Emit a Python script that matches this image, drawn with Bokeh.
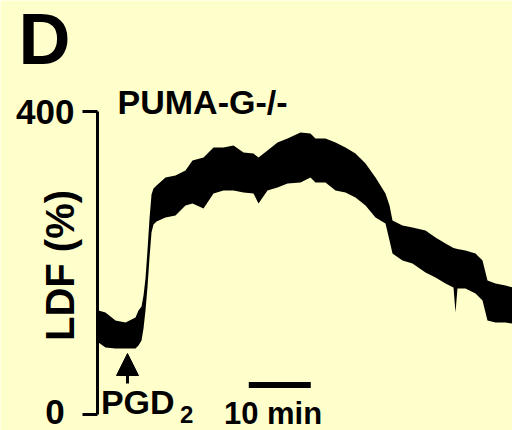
from bokeh.plotting import figure
from bokeh.models import FixedTicker, Label, Arrow, NormalHead, ColumnDataSource
from bokeh.embed import file_html
from bokeh.resources import INLINE

# ---- data (time in min, LDF in %) ----
time_min = [0.16, 1.29, 2.90, 4.52, 6.13, 6.61, 7.10, 7.42, 7.74, 8.06, 8.39, 8.71, 9.03, 9.52,
            10.97, 12.58, 14.19, 15.32, 17.10, 18.71, 20.32, 21.94, 23.55, 25.16, 25.97, 27.42,
            29.03, 30.65, 32.74, 34.35, 35.16, 36.77, 38.39, 40.00, 41.61, 43.23, 44.84, 46.45,
            47.10, 47.58, 49.19, 50.81, 52.90, 54.52, 56.13, 57.42, 57.74, 58.06, 59.35, 60.97,
            62.10, 62.90, 64.19, 65.81, 66.94]
ldf_upper = [137.3, 134.7, 124.1, 121.4, 128.0, 137.3, 142.6, 157.1, 179.5, 216.5, 258.7, 290.4,
             298.3, 302.3, 312.9, 315.5, 322.1, 335.3, 339.3, 352.5, 352.5, 355.1, 345.9, 344.5,
             339.3, 348.5, 359.1, 364.3, 372.3, 370.9, 364.3, 364.3, 359.1, 352.5, 344.5, 331.4,
             312.9, 291.7, 275.9, 256.1, 249.5, 246.9, 242.9, 233.7, 225.7, 219.8, 219.1, 218.5,
             216.5, 212.5, 203.3, 176.9, 172.9, 170.3, 167.7]
ldf_lower = [95.0, 88.4, 87.1, 87.1, 87.1, 91.1, 97.7, 113.5, 137.3, 167.7, 207.3, 240.3,
             250.8, 254.8, 260.1, 262.7, 275.9, 278.5, 271.8, 291.7, 295.7, 295.7, 293.1, 291.7,
             278.5, 295.7, 299.7, 304.9, 306.3, 312.9, 306.3, 306.3, 295.7, 293.1, 286.5, 275.9,
             260.1, 252.1, 229.7, 212.5, 203.3, 199.3, 187.5, 180.9, 172.9, 167.7, 134.7, 166.3,
             166.3, 159.7, 150.5, 124.1, 121.4, 121.4, 120.1]

y_ticks = [0, 400]
pgd2_time = 4.84          # injection time (min)
scale_bar_start = 24.4    # min
scale_bar_len = 10        # min

BG = "#FFFFCC"
FONT = "Liberation Sans"

p = figure(width=512, height=430, output_backend="svg", toolbar_location=None,
           x_range=(-15.645, 66.935), y_range=(-21.12, 546.54),
           x_axis_location=None, min_border_left=0, min_border_right=0,
           min_border_top=0, min_border_bottom=0)
p.background_fill_color = BG
p.border_fill_color = BG
p.outline_line_color = None
p.grid.visible = False

ax = p.yaxis[0]
ax.fixed_location = 0
ax.ticker = FixedTicker(ticks=y_ticks)
ax.major_label_overrides = {0: "0\u2008"}
ax.bounds = (0, 400)
ax.major_tick_out = 15
ax.major_tick_in = 0
ax.minor_tick_line_color = None
ax.axis_line_width = 3
ax.major_tick_line_width = 3
ax.axis_line_color = "black"
ax.major_tick_line_color = "black"
ax.major_label_text_font = FONT
ax.major_label_text_font_style = "bold"
ax.major_label_text_font_size = "35px"
ax.major_label_text_color = "black"
ax.major_label_standoff = 8

src = ColumnDataSource(dict(t=time_min, hi=ldf_upper, lo=ldf_lower))
p.varea(x="t", y1="lo", y2="hi", source=src, fill_color="black")

# scale bar
p.line(x=[scale_bar_start, scale_bar_start + scale_bar_len], y=[38.9, 38.9],
       line_color="black", line_width=6, line_cap="butt")

# PGD2 arrow
p.add_layout(Arrow(x_start=pgd2_time, y_start=40.9, x_end=pgd2_time, y_end=80.5,
                   line_width=3, line_color="black",
                   end=NormalHead(size=22, fill_color="black", line_color="black", line_width=1)))

def lab(x, y, text, size, **kw):
    p.add_layout(Label(x=x, y=y, text=text, text_font=FONT, text_font_style="bold",
                       text_font_size=size, text_color="black",
                       text_baseline="alphabetic", **kw))

lab(-12.74, 495.1, "D", "72px")
lab(3.23, 413.1, "PUMA-G-/-", "34px")
lab(-5.98, 196.7, "LDF (%)", "40px", angle=1.5708, text_align="center")
lab(0.55, 16.1, "PGD", "34px")
lab(13.3, -0.46, "2", "24px")
lab(28.31, 1.2, "10 min", "31px", text_align="center")

open("out.html", "w").write(file_html(p, INLINE))
